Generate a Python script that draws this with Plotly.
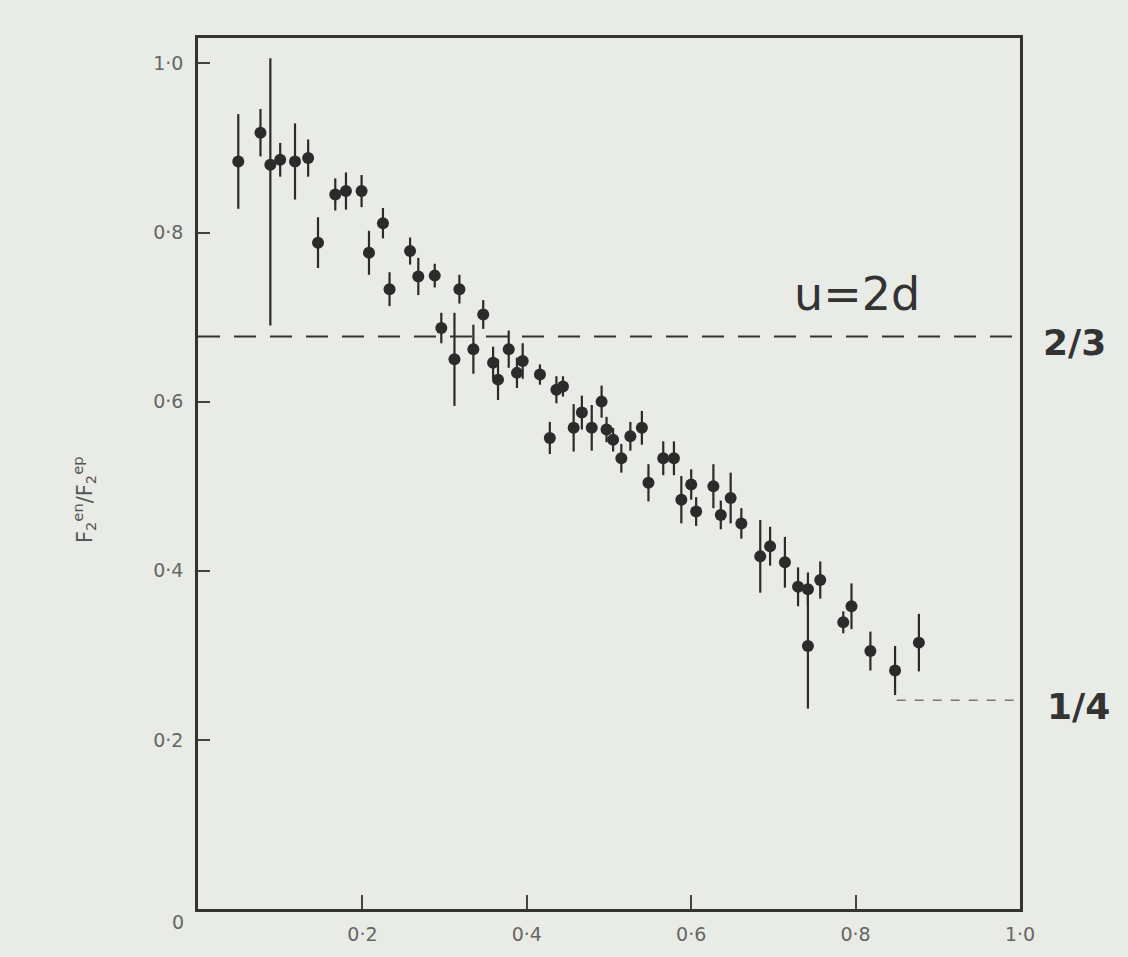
import plotly.graph_objects as go

# Data (x, ratio F2en/F2ep, error)
x_vals = [0.049, 0.076, 0.088, 0.100, 0.118, 0.134, 0.146, 0.167, 0.180, 0.199,
          0.208, 0.225, 0.233, 0.258, 0.268, 0.288, 0.296, 0.312, 0.318, 0.335,
          0.347, 0.359, 0.365, 0.378, 0.388, 0.395, 0.416, 0.428, 0.436, 0.444,
          0.457, 0.467, 0.479, 0.491, 0.497, 0.505, 0.515, 0.526, 0.540, 0.548,
          0.566, 0.579, 0.588, 0.600, 0.606, 0.627, 0.636, 0.648, 0.661, 0.684,
          0.696, 0.714, 0.730, 0.742, 0.742, 0.757, 0.785, 0.795, 0.818, 0.848,
          0.877]
y_vals = [0.884, 0.918, 0.880, 0.886, 0.884, 0.888, 0.788, 0.845, 0.849, 0.849,
          0.776, 0.811, 0.733, 0.778, 0.748, 0.749, 0.687, 0.650, 0.733, 0.662,
          0.703, 0.646, 0.626, 0.662, 0.634, 0.648, 0.632, 0.557, 0.614, 0.618,
          0.569, 0.587, 0.569, 0.600, 0.567, 0.555, 0.533, 0.559, 0.569, 0.504,
          0.533, 0.533, 0.484, 0.502, 0.470, 0.500, 0.466, 0.486, 0.456, 0.417,
          0.429, 0.410, 0.381, 0.378, 0.311, 0.389, 0.339, 0.358, 0.305, 0.282,
          0.315]
err_up = [0.056, 0.028, 0.126, 0.020, 0.045, 0.022, 0.030, 0.019, 0.022, 0.019,
          0.026, 0.018, 0.020, 0.016, 0.022, 0.014, 0.018, 0.055, 0.017, 0.029,
          0.017, 0.019, 0.024, 0.022, 0.018, 0.021, 0.012, 0.019, 0.016, 0.012,
          0.028, 0.020, 0.027, 0.019, 0.015, 0.014, 0.017, 0.017, 0.020, 0.022,
          0.020, 0.020, 0.028, 0.018, 0.017, 0.026, 0.017, 0.030, 0.018, 0.043,
          0.023, 0.030, 0.023, 0.020, 0.074, 0.022, 0.013, 0.027, 0.023, 0.029,
          0.034]
err_down = [0.056, 0.028, 0.190, 0.020, 0.045, 0.022, 0.030, 0.019, 0.022, 0.019,
            0.026, 0.018, 0.020, 0.016, 0.022, 0.014, 0.018, 0.055, 0.017, 0.029,
            0.017, 0.019, 0.024, 0.022, 0.018, 0.021, 0.012, 0.019, 0.016, 0.012,
            0.028, 0.020, 0.027, 0.019, 0.015, 0.014, 0.017, 0.017, 0.020, 0.022,
            0.020, 0.020, 0.028, 0.018, 0.017, 0.026, 0.017, 0.030, 0.018, 0.043,
            0.023, 0.030, 0.023, 0.020, 0.074, 0.022, 0.013, 0.027, 0.023, 0.029,
            0.034]

x_ticks = [0.2, 0.4, 0.6, 0.8, 1.0]
x_tick_labels = ["0·2", "0·4", "0·6", "0·8", "1·0"]
y_ticks = [0.2, 0.4, 0.6, 0.8, 1.0]
y_tick_labels = ["0·2", "0·4", "0·6", "0·8", "1·0"]

u2d_level = 0.677
quarter_level = 0.247

BG = "#e9ebe7"
INK = "#2b2b2b"
GREY = "#666666"

fig = go.Figure()

fig.add_trace(go.Scatter(
    x=[0, 1.0], y=[u2d_level, u2d_level], mode="lines",
    line=dict(color="#333333", width=2, dash="22px,14px"),
    hoverinfo="skip", showlegend=False))

fig.add_trace(go.Scatter(
    x=[0.85, 1.0], y=[quarter_level, quarter_level], mode="lines",
    line=dict(color="#777777", width=1.5, dash="9px,9px"),
    hoverinfo="skip", showlegend=False))

fig.add_trace(go.Scatter(
    x=x_vals, y=y_vals, mode="markers",
    marker=dict(color=INK, size=12, line=dict(width=0)),
    error_y=dict(type="data", array=err_up, arrayminus=err_down,
                 symmetric=False, color=INK, thickness=2.2, width=0),
    showlegend=False))

fig.update_layout(
    width=1128, height=957,
    margin=dict(l=198, r=108, t=38, b=48),
    paper_bgcolor=BG, plot_bgcolor=BG,
    showlegend=False,
    font=dict(family="DejaVu Sans", color=GREY, size=19),
)

fig.update_xaxes(
    range=[0, 1.0], showgrid=False, zeroline=False,
    showline=True, linecolor="#333333", linewidth=2.5, mirror=True,
    tickmode="array", tickvals=x_ticks, ticktext=x_tick_labels,
    ticks="inside", ticklen=14, tickwidth=1.5, tickcolor="#444444",
    tickfont=dict(family="DejaVu Sans", size=19, color=GREY),
    ticklabelstandoff=6,
)
fig.update_yaxes(
    range=[0, 1.03], showgrid=False, zeroline=False,
    showline=True, linecolor="#333333", linewidth=2.5, mirror=True,
    tickmode="array", tickvals=y_ticks, ticktext=y_tick_labels,
    ticks="inside", ticklen=12, tickwidth=2, tickcolor="#444444",
    tickfont=dict(family="DejaVu Sans", size=19, color=GREY),
    ticklabelstandoff=8,
)

# origin label
fig.add_annotation(xref="paper", yref="paper", x=-0.034, y=0, yshift=-26,
                   text="0", showarrow=False,
                   font=dict(family="DejaVu Sans", size=19, color=GREY))

# y-axis title
fig.add_annotation(xref="paper", yref="paper", x=-0.16, y=0.47,
                   text="F<sub>2</sub><sup>en</sup>/F<sub>2</sub><sup>ep</sup>",
                   textangle=-90, showarrow=False,
                   font=dict(family="DejaVu Sans", size=21, color="#555555"))

# handwritten labels
fig.add_annotation(xref="x", yref="y", x=0.802, y=0.727,
                   text="u=2d", showarrow=False,
                   font=dict(family="DejaVu Sans", size=46, color="#333333"))
fig.add_annotation(xref="paper", yref="y", x=1.026, y=0.670,
                   text="<b>2/3</b>", showarrow=False, xanchor="left",
                   font=dict(family="DejaVu Sans", size=36, color="#333333"))
fig.add_annotation(xref="paper", yref="y", x=1.030, y=0.240,
                   text="<b>1/4</b>", showarrow=False, xanchor="left",
                   font=dict(family="DejaVu Sans", size=36, color="#333333"))

fig.write_html("out.html")
